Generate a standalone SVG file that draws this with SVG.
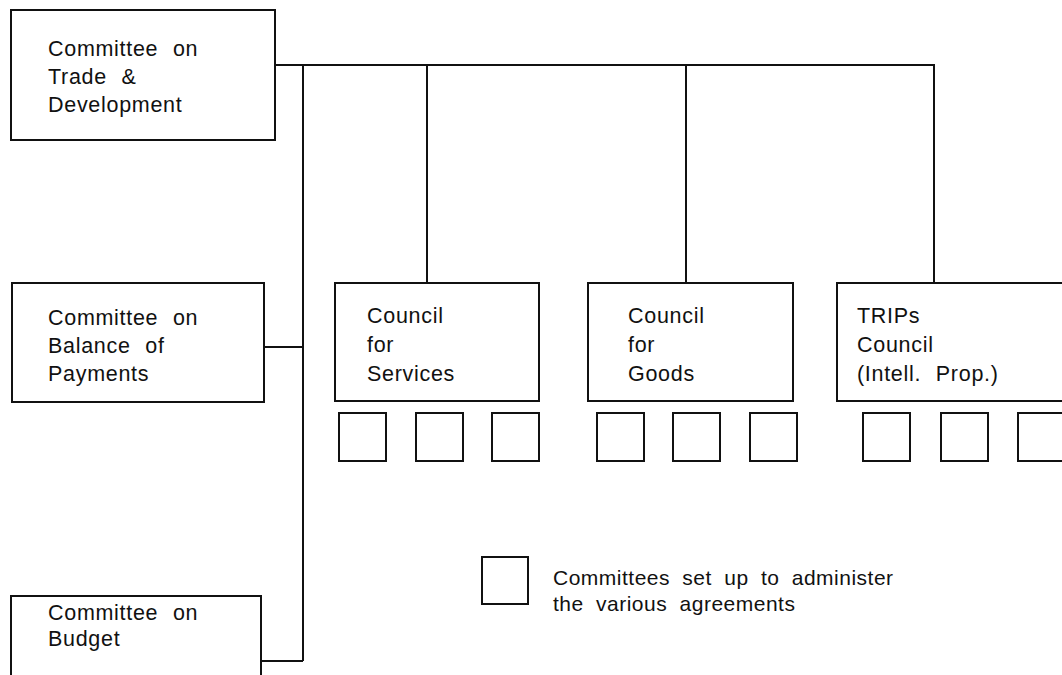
<svg xmlns="http://www.w3.org/2000/svg" width="1062" height="675" viewBox="0 0 1062 675">
<style>
.box{fill:#fff;stroke:#111;stroke-width:2}
.sq{fill:#fff;stroke:#111;stroke-width:2}
.ln{fill:none;stroke:#111;stroke-width:2}
text{font-family:"Liberation Sans",Arial,sans-serif;font-size:21.5px;fill:#111;letter-spacing:0.7px;word-spacing:8px}
text.lg{font-size:21px;letter-spacing:0.5px;word-spacing:6px}
</style>
<rect width="1062" height="675" fill="#fff"/>
<g id="connectors">
<polyline class="ln" points="275,65 934,65 934,283"/>
<line class="ln" x1="303" y1="65" x2="303" y2="661"/>
<line class="ln" x1="427" y1="65" x2="427" y2="283"/>
<line class="ln" x1="686" y1="65" x2="686" y2="283"/>
<line class="ln" x1="264" y1="347" x2="303" y2="347"/>
<line class="ln" x1="261" y1="661" x2="303" y2="661"/>
</g>
<g id="trade">
<rect class="box" x="11" y="10" width="264" height="130"/>
<text x="48" y="56">Committee on</text>
<text x="48" y="84">Trade &amp;</text>
<text x="48" y="112">Development</text>
</g>
<g id="balance">
<rect class="box" x="12" y="283" width="252" height="119"/>
<text x="48" y="325">Committee on</text>
<text x="48" y="353">Balance of</text>
<text x="48" y="381">Payments</text>
</g>
<g id="budget">
<rect class="box" x="11" y="596" width="250" height="100"/>
<text x="48" y="620">Committee on</text>
<text x="48" y="646">Budget</text>
</g>
<g id="services">
<rect class="box" x="335" y="283" width="204" height="118"/>
<text x="367" y="323">Council</text>
<text x="367" y="352">for</text>
<text x="367" y="381">Services</text>
</g>
<g id="services-committees">
<rect class="sq" x="339" y="413" width="47" height="48"/>
<rect class="sq" x="416" y="413" width="47" height="48"/>
<rect class="sq" x="492" y="413" width="47" height="48"/>
</g>
<g id="goods">
<rect class="box" x="588" y="283" width="205" height="118"/>
<text x="628" y="323">Council</text>
<text x="628" y="352">for</text>
<text x="628" y="381">Goods</text>
</g>
<g id="goods-committees">
<rect class="sq" x="597" y="413" width="47" height="48"/>
<rect class="sq" x="673" y="413" width="47" height="48"/>
<rect class="sq" x="750" y="413" width="47" height="48"/>
</g>
<g id="trips">
<rect class="box" x="837" y="283" width="240" height="118"/>
<text x="857" y="323">TRIPs</text>
<text x="857" y="352">Council</text>
<text x="857" y="381">(Intell. Prop.)</text>
</g>
<g id="trips-committees">
<rect class="sq" x="863" y="413" width="47" height="48"/>
<rect class="sq" x="941" y="413" width="47" height="48"/>
<rect class="sq" x="1018" y="413" width="47" height="48"/>
</g>
<g id="legend">
<rect class="sq" x="482" y="557" width="46" height="47"/>
<text class="lg" x="553" y="585">Committees set up to administer</text>
<text class="lg" x="553" y="611">the various agreements</text>
</g>
</svg>
